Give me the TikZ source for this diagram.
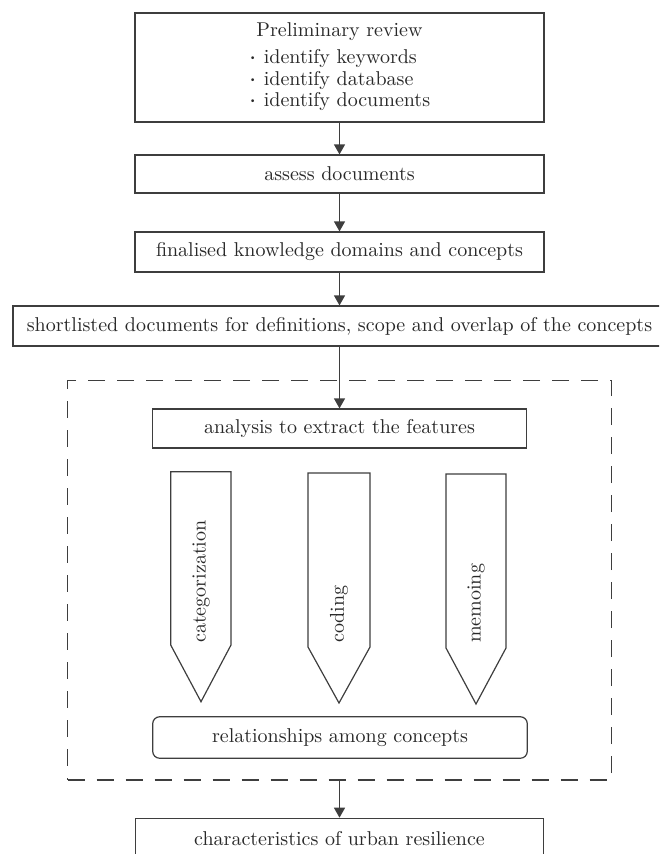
\documentclass[tikz,border=0pt]{standalone}
\usepackage{graphicx}
\usetikzlibrary{arrows.meta}
\definecolor{ln}{RGB}{62,62,62}
\definecolor{tx}{RGB}{40,40,40}
\newcommand\BigT[1]{\scalebox{2}{#1}}
\newcommand\dotitem{\makebox[7.5pt][l]{\raisebox{0.35ex}{\scalebox{0.5}{\textbullet}}}}
\begin{document}
\begin{tikzpicture}[x=1pt,y=-1pt,
  box/.style={draw=ln, line width=1.2pt, rectangle, inner sep=0pt, text=tx, align=center},
  pent/.style={draw=ln, line width=1.2pt, line join=miter},
  vtxt/.style={rotate=90, anchor=west, inner sep=0pt, text=tx},
  arr/.style={draw=ln, line width=1.2pt, -{Triangle[length=10pt,width=11pt]}},
  grpbox/.style={draw=ln, line width=1.2pt, dash pattern=on 17pt off 12pt, rectangle, inner sep=0pt}]
\useasboundingbox (0,0) rectangle (659,854);
\clip (0,0) rectangle (659,854);
% main boxes
\node[box, minimum width=409pt, minimum height=109pt] (pre) at (339.5,67.5)
  {\BigT{\renewcommand\arraystretch{0.9}\begin{tabular}{@{}c@{}}Preliminary review\\[2.5pt]
   \begin{tabular}{@{}l@{}}\dotitem identify keywords\\ \dotitem identify database\\ \dotitem identify documents\end{tabular}\end{tabular}}};
\node[box, minimum width=409pt, minimum height=38pt] (assess) at (339.5,174) {\BigT{assess documents}};
\node[box, minimum width=409pt, minimum height=40pt] (final) at (339.5,252) {\BigT{finalised knowledge domains and concepts}};
\node[box, minimum width=653pt, minimum height=40pt] (short) at (339.5,326) {\BigT{shortlisted documents for definitions, scope and overlap of the concepts}};
% dashed group
\node[grpbox, minimum width=544pt, minimum height=399.5pt] (grp) at (339.7,580.25) {};
\node[box, minimum width=374pt, minimum height=39pt] (anal) at (339.5,428.5) {\BigT{analysis to extract the features}};
% pentagons
\draw[pent] (170.7,471.7) -- (231,471.7) -- (231,645) -- (201,701.7) -- (170.7,645) -- cycle;
\draw[pent] (308,473) -- (370,473) -- (370,647) -- (339,703) -- (308,647) -- cycle;
\draw[pent] (446,474) -- (506,474) -- (506,648) -- (476,704) -- (446,648) -- cycle;
\node[vtxt] (cat) at (201,643) {\BigT{categorization}};
\node[vtxt] (cod) at (339,643) {\BigT{coding}};
\node[vtxt] (mem) at (476,643) {\BigT{memoing}};
\node[box, rounded corners=7pt, minimum width=374.6pt, minimum height=41.5pt] (rel) at (340,737.5) {\BigT{relationships among concepts}};
% final box
\node[box, minimum width=408pt, minimum height=40pt] (bot) at (339.5,838.3) {\BigT{characteristics of urban resilience}};
% connectors
\draw[arr] (pre.south) -- (assess.north);
\draw[arr] (assess.south) -- (final.north);
\draw[arr] (final.south) -- (short.north);
\draw[arr] (short.south) -- (anal.north);
\draw[arr] (bot.north |- grp.south) -- (bot.north);
\end{tikzpicture}
\end{document}
